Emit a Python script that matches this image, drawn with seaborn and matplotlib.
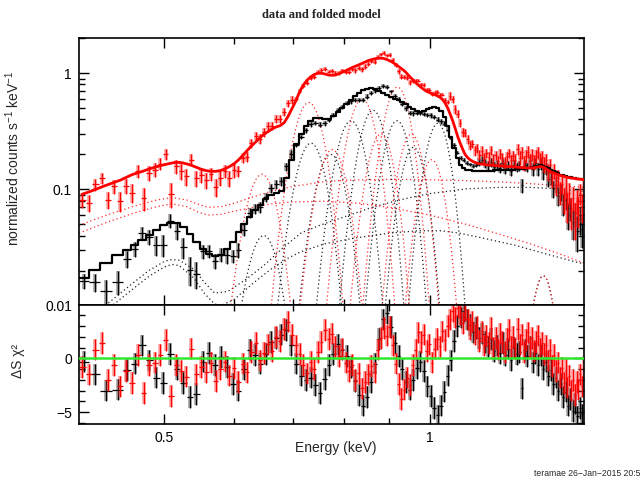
import numpy as np
import matplotlib
matplotlib.use("Agg")
import matplotlib.pyplot as plt
import seaborn as sns
from matplotlib.ticker import FixedLocator, FixedFormatter, NullFormatter, LogLocator, MultipleLocator

# ---------------------------------------------------------------- data
# Dataset 1 (black): channel bin edges [keV], folded model, residuals
black_edges = [
    0.400, 0.411, 0.423, 0.436, 0.449, 0.458, 0.467, 0.476, 0.485, 0.494,
    0.503, 0.512, 0.521, 0.530, 0.539, 0.548, 0.557, 0.566, 0.575, 0.584,
    0.593, 0.602, 0.611, 0.620, 0.629, 0.638, 0.647, 0.656, 0.665, 0.674,
    0.683, 0.692, 0.701, 0.710, 0.719, 0.728, 0.737, 0.746, 0.755, 0.764,
    0.773, 0.782, 0.791, 0.800, 0.809, 0.818, 0.827, 0.836, 0.845, 0.854,
    0.863, 0.872, 0.881, 0.890, 0.899, 0.908, 0.917, 0.926, 0.935, 0.944,
    0.953, 0.962, 0.971, 0.980, 0.989, 0.998, 1.007, 1.016, 1.025, 1.034,
    1.043, 1.052, 1.061, 1.070, 1.079, 1.088, 1.097, 1.106, 1.115, 1.124,
    1.133, 1.142, 1.151, 1.160, 1.169, 1.178, 1.187, 1.196, 1.205, 1.214,
    1.223, 1.232, 1.241, 1.250, 1.259, 1.268, 1.277, 1.286, 1.295, 1.304,
    1.313, 1.322, 1.331, 1.340, 1.349, 1.358, 1.367, 1.376, 1.385, 1.394,
    1.403, 1.412, 1.421, 1.430, 1.439, 1.448, 1.457, 1.466, 1.475, 1.484,
    1.493]
black_model = [
    0.0171, 0.0201, 0.0231, 0.0270, 0.0298, 0.0329, 0.0364, 0.0401, 0.0443, 0.0490,
    0.0510, 0.0510, 0.0470, 0.0410, 0.0350, 0.0305, 0.0275, 0.0265, 0.0270, 0.0305,
    0.0350, 0.0430, 0.0500, 0.0580, 0.0660, 0.0740, 0.0820, 0.0890, 0.0930, 0.0960,
    0.125, 0.180, 0.245, 0.300, 0.350, 0.390, 0.415, 0.415, 0.400, 0.405,
    0.430, 0.460, 0.500, 0.545, 0.590, 0.640, 0.680, 0.715, 0.735, 0.740,
    0.725, 0.700, 0.680, 0.650, 0.625, 0.605, 0.590, 0.570, 0.545, 0.515,
    0.490, 0.470, 0.460, 0.470, 0.490, 0.505, 0.515, 0.505, 0.470, 0.420,
    0.350, 0.280, 0.225, 0.185, 0.162, 0.152, 0.148, 0.146, 0.145, 0.145,
    0.145, 0.145, 0.145, 0.145, 0.145, 0.146, 0.146, 0.146, 0.147, 0.147,
    0.147, 0.148, 0.148, 0.149, 0.150, 0.150, 0.151, 0.152, 0.154, 0.156,
    0.158, 0.160, 0.161, 0.160, 0.157, 0.152, 0.147, 0.143, 0.140, 0.137,
    0.134, 0.132, 0.130, 0.128, 0.127, 0.126, 0.125, 0.124, 0.123, 0.122]
black_resid = [
    -0.3, -1.5, -3.0, -2.9, -1.1, -0.5, 1.2, -0.2, -1.8, -2.3,
    0.4, -1.0, -2.3, -3.6, -3.3, -0.3, 0.5, -0.6, 0.1, -0.8,
    -2.4, -3.0, -1.0, 0.8, 0.3, -0.5, 0.4, 1.5, 1.9, 2.2,
    2.6, 1.2, -0.5, -1.6, -2.0, -1.8, -2.5, -3.2, -1.9, -0.6,
    0.4, 1.3, 0.8, 0.2, -0.8, -2.1, -3.4, -4.4, -3.6, -2.2,
    -0.5, 1.8, 3.6, 4.2, 2.9, 1.4, 0.2, -1.0, -2.2, -2.9,
    -2.0, -0.9, -0.3, -1.2, -2.6, -3.5, -4.6, -5.3, -4.4, -3.1,
    -1.6, -0.2, 1.6, 3.0, 3.8, 4.4, 3.6, 3.1, 2.4, 2.8,
    1.9, 2.3, 1.5, 1.1, 1.8, 0.7, 1.2, 0.5, 1.4, 0.3,
    0.9, -0.2, 1.0, 0.4, 0.6, -2.8, 0.8, 0.2, 1.1, -0.4,
    0.5, -0.6, 0.3, -1.0, -0.3, -1.6, -1.1, -2.4, -1.8, -3.0,
    -2.4, -3.6, -3.1, -4.4, -3.8, -4.9, -4.2, -5.4, -4.6, -5.2]
black_relerr = [0.14] * 20 + [0.10] * 12 + [0.04] * 48 + [0.10] * 18 + [0.12] * 22

# Dataset 2 (red)
red_edges = [
    0.400, 0.407, 0.414, 0.421, 0.428, 0.435, 0.442, 0.449, 0.456, 0.463,
    0.470, 0.477, 0.484, 0.491, 0.498, 0.505, 0.512, 0.519, 0.526, 0.533,
    0.540, 0.547, 0.554, 0.561, 0.568, 0.575, 0.582, 0.589, 0.596, 0.603,
    0.610, 0.617, 0.624, 0.631, 0.638, 0.645, 0.652, 0.659, 0.666, 0.673,
    0.680, 0.687, 0.694, 0.701, 0.708, 0.715, 0.722, 0.729, 0.736, 0.743,
    0.750, 0.757, 0.764, 0.771, 0.778, 0.785, 0.792, 0.799, 0.806, 0.813,
    0.820, 0.827, 0.834, 0.841, 0.848, 0.855, 0.862, 0.869, 0.876, 0.883,
    0.890, 0.897, 0.904, 0.911, 0.918, 0.925, 0.932, 0.939, 0.946, 0.953,
    0.960, 0.967, 0.974, 0.981, 0.988, 0.995, 1.002, 1.009, 1.016, 1.023,
    1.030, 1.037, 1.044, 1.051, 1.058, 1.065, 1.072, 1.079, 1.086, 1.093,
    1.100, 1.107, 1.114, 1.121, 1.128, 1.135, 1.142, 1.149, 1.156, 1.163,
    1.170, 1.177, 1.184, 1.191, 1.198, 1.205, 1.212, 1.219, 1.226, 1.233,
    1.240, 1.247, 1.254, 1.261, 1.268, 1.275, 1.282, 1.289, 1.296, 1.303,
    1.310, 1.317, 1.324, 1.331, 1.338, 1.345, 1.352, 1.359, 1.366, 1.373,
    1.380, 1.387, 1.394, 1.401, 1.408, 1.415, 1.422, 1.429, 1.436, 1.443,
    1.450, 1.457, 1.464, 1.471, 1.478, 1.485, 1.492, 1.499]
red_model = [
    0.091, 0.095, 0.100, 0.105, 0.110, 0.115, 0.120, 0.127, 0.134, 0.139,
    0.144, 0.150, 0.155, 0.160, 0.164, 0.168, 0.171, 0.170, 0.166, 0.161,
    0.155, 0.149, 0.145, 0.143, 0.143, 0.145, 0.150, 0.157, 0.166, 0.179,
    0.196, 0.216, 0.236, 0.256, 0.278, 0.298, 0.315, 0.332, 0.345, 0.354,
    0.375, 0.425, 0.495, 0.575, 0.690, 0.790, 0.870, 0.930, 0.975, 1.000,
    1.000, 0.985, 0.965, 0.960, 0.965, 0.990, 1.020, 1.050, 1.085, 1.120,
    1.150, 1.180, 1.215, 1.250, 1.285, 1.310, 1.330, 1.345, 1.350, 1.340,
    1.315, 1.280, 1.240, 1.195, 1.145, 1.100, 1.050, 0.990, 0.930, 0.880,
    0.830, 0.790, 0.755, 0.725, 0.700, 0.682, 0.668, 0.655, 0.640, 0.622,
    0.595, 0.555, 0.505, 0.445, 0.390, 0.335, 0.285, 0.250, 0.222, 0.200,
    0.188, 0.180, 0.175, 0.171, 0.168, 0.166, 0.165, 0.164, 0.163, 0.162,
    0.162, 0.161, 0.160, 0.160, 0.159, 0.159, 0.158, 0.158, 0.157, 0.157,
    0.156, 0.156, 0.155, 0.155, 0.154, 0.154, 0.153, 0.153, 0.153, 0.153,
    0.154, 0.155, 0.156, 0.157, 0.156, 0.154, 0.150, 0.146, 0.143, 0.140,
    0.138, 0.136, 0.134, 0.132, 0.131, 0.130, 0.128, 0.127, 0.126, 0.125,
    0.125, 0.124, 0.123, 0.123, 0.122, 0.122, 0.121]
red_resid = [
    -0.8, -1.5, 0.8, 1.4, -2.0, -0.6, -2.6, -1.2, -2.3, 0.3,
    -3.2, -0.6, -0.4, 0.3, 1.7, -3.5, -0.6, -1.2, -1.7, 0.9,
    -1.5, -0.8, -1.3, -0.4, -2.1, -1.0, -0.3, -1.6, -0.9, -2.2,
    -0.5, -1.3, 0.6, 1.4, -0.2, 0.5, 1.3, 0.7, 2.0, 1.6,
    2.7, 3.4, 2.2, 1.2, 0.4, -0.6, -1.4, -0.3, -1.0, 0.6,
    1.5, 2.6, 1.8, 2.3, 1.1, 0.2, 0.9, -0.4, -1.2, -0.6,
    -2.0, -1.4, -2.8, -2.2, -1.5, -0.7, -1.3, 0.8, 1.9, 2.8,
    2.1, 2.9, 1.2, -0.5, -2.4, -3.8, -2.9, -1.8, -2.5, -0.6,
    0.8, 2.4, 1.5, 2.2, 0.7, 1.3, -0.4, 0.9, 1.8, 1.1,
    2.5, 1.7, 3.0, 3.6, 4.4, 3.8, 4.7, 4.1, 3.3, 4.5,
    3.6, 2.7, 3.4, 2.2, 2.9, 1.6, 2.5, 1.2, 2.1, 1.4,
    2.8, 1.0, 1.9, 0.8, 2.3, 1.5, 0.6, 1.8, 2.6, 1.1,
    2.0, 0.9, 2.7, 1.3, 2.2, 0.6, 1.7, 2.4, 1.0, 1.9,
    0.7, 1.5, 2.1, 0.9, 1.4, 0.4, 1.2, -0.2, 0.8, -0.7,
    0.3, -1.2, -0.4, -1.8, -0.9, -2.3, -1.1, -2.7, -1.6, -3.0,
    -2.0, -3.4, -2.2, -2.9, -1.5, -2.6, -0.8]
red_relerr = [0.13] * 29 + [0.09] * 14 + [0.04] * 50 + [0.12] * 28 + [0.16] * 36

# Model components: emission lines (centre keV, peak, sigma keV)
red_line_e = [0.645, 0.729, 0.775, 0.838, 0.880, 0.919, 0.953, 1.005, 1.345]
red_line_peak = [0.135, 0.56, 0.22, 0.60, 0.30, 0.76, 0.30, 0.18, 0.018]
red_line_sigma = [0.022, 0.024, 0.025, 0.026, 0.026, 0.027, 0.027, 0.028, 0.032]
black_line_e = [0.648, 0.733, 0.772, 0.814, 0.862, 0.918, 0.958, 1.021, 1.345]
black_line_peak = [0.040, 0.25, 0.20, 0.39, 0.48, 0.39, 0.23, 0.37, 0.018]
black_line_sigma = [0.022, 0.024, 0.025, 0.026, 0.026, 0.027, 0.027, 0.028, 0.032]

# Continuum components
red_c1_e = [0.40, 0.43, 0.46, 0.49, 0.51, 0.53, 0.545, 0.56, 0.58, 0.60, 0.63, 0.66,
            0.70, 0.75, 0.80, 0.90, 1.0, 1.1, 1.2, 1.3, 1.4, 1.5]
red_c1_v = [0.049, 0.060, 0.071, 0.081, 0.085, 0.081, 0.075, 0.070, 0.071, 0.076, 0.086, 0.096,
            0.106, 0.115, 0.120, 0.122, 0.121, 0.119, 0.116, 0.112, 0.108, 0.104]
red_c2_e = [0.40, 0.43, 0.46, 0.49, 0.51, 0.53, 0.545, 0.56, 0.58, 0.60, 0.63, 0.66,
            0.70, 0.76, 0.83, 0.90, 1.0, 1.1, 1.2, 1.3, 1.4, 1.5]
red_c2_v = [0.042, 0.052, 0.062, 0.071, 0.075, 0.071, 0.064, 0.060, 0.061, 0.065, 0.070, 0.075,
            0.078, 0.079, 0.076, 0.070, 0.060, 0.050, 0.041, 0.034, 0.028, 0.023]
black_c1_e = [0.425, 0.44, 0.46, 0.48, 0.50, 0.51, 0.52, 0.54, 0.555, 0.57, 0.59, 0.62, 0.65,
              0.68, 0.714, 0.75, 0.80, 0.85, 0.90, 0.95, 1.0, 1.1, 1.2, 1.3, 1.4, 1.5]
black_c1_v = [0.0095, 0.0118, 0.0155, 0.0200, 0.0240, 0.0249, 0.0245, 0.0205, 0.0158, 0.0128,
              0.0132, 0.0170, 0.0225, 0.031, 0.042, 0.049, 0.058, 0.068, 0.077, 0.085, 0.092,
              0.101, 0.104, 0.104, 0.101, 0.096]
black_c2_e = [0.43, 0.44, 0.46, 0.48, 0.50, 0.51, 0.52, 0.54, 0.555, 0.57, 0.58, 0.60, 0.63,
              0.66, 0.69, 0.714, 0.76, 0.82, 0.90, 0.97, 1.03, 1.08, 1.15, 1.25, 1.35, 1.47, 1.5]
black_c2_v = [0.0093, 0.0105, 0.0138, 0.0178, 0.0215, 0.0226, 0.0220, 0.0172, 0.0127, 0.0103,
              0.0100, 0.0113, 0.0155, 0.0205, 0.0255, 0.029, 0.034, 0.038, 0.042, 0.044, 0.044,
              0.042, 0.038, 0.033, 0.028, 0.0235, 0.0228]

x_ticks = [0.5, 1.0]
x_ticklabels = ["0.5", "1"]

# ---------------------------------------------------------------- style
sns.set_style("ticks")
plt.rcParams["font.family"] = ["Liberation Sans", "DejaVu Sans"]
plt.rcParams["mathtext.fontset"] = "custom"
plt.rcParams["mathtext.rm"] = "Liberation Sans"
plt.rcParams["mathtext.it"] = "Liberation Sans:italic"
plt.rcParams["axes.linewidth"] = 1.2

fig = plt.figure(figsize=(6.43, 4.87), dpi=100)
ax1 = fig.add_axes([0.1229, 0.3727, 0.7858, 0.5487])
ax2 = fig.add_axes([0.1229, 0.1294, 0.7858, 0.2433], sharex=ax1)

DOT = (0, (1, 2.2))


def prepare(edges, model, resid, relerr):
    edges = np.asarray(edges)
    model = np.asarray(model)
    resid = np.asarray(resid)
    relerr = np.asarray(relerr)
    centers = 0.5 * (edges[:-1] + edges[1:])
    halfw = 0.5 * np.diff(edges)
    err = model * relerr
    data = model + resid * err
    return edges, centers, halfw, model, resid, data, err


datasets = [
    ("black", prepare(black_edges, black_model, black_resid, black_relerr),
     (black_line_e, black_line_peak, black_line_sigma),
     [(black_c1_e, black_c1_v), (black_c2_e, black_c2_v)],
     "#000000", (0.2, 0.2, 0.2, 0.45), "#222222"),
    ("red", prepare(red_edges, red_model, red_resid, red_relerr),
     (red_line_e, red_line_peak, red_line_sigma),
     [(red_c1_e, red_c1_v), (red_c2_e, red_c2_v)],
     "#ff0000", (1.0, 0.2, 0.2, 0.45), "#ff2a2a"),
]

for name, (edges, centers, halfw, model, resid, data, err), lines, conts, col, halo, dotcol in datasets:
    # dotted model components
    for c, p, s in zip(*lines):
        e = np.linspace(c - 5 * s, c + 5 * s, 200)
        sns.lineplot(x=e, y=p * np.exp(-0.5 * ((e - c) / s) ** 2), ax=ax1, color=dotcol,
                     lw=0.9, linestyle=DOT, estimator=None, sort=False, legend=False, zorder=1)
    for ce, cv in conts:
        sns.lineplot(x=ce, y=cv, ax=ax1, color=dotcol, lw=0.9, linestyle=DOT,
                     estimator=None, sort=False, legend=False, zorder=1)

    # data with error bars
    ax1.errorbar(centers, data, yerr=err, fmt="none", ecolor=halo, elinewidth=2.6, capsize=0, zorder=2)
    ax1.errorbar(centers, data, yerr=err, xerr=halfw, fmt="none", ecolor=col, elinewidth=0.9,
                 capsize=0, zorder=2)

    # residuals
    ones = np.ones_like(resid)
    ax2.errorbar(centers, resid, yerr=ones, fmt="none", ecolor=halo, elinewidth=2.6, capsize=0, zorder=2)
    ax2.errorbar(centers, resid, yerr=ones, xerr=halfw, fmt="none", ecolor=col, elinewidth=0.9,
                 capsize=0, zorder=2)

# folded models
be, bc, bh, bm, *_ = datasets[0][1]
sns.lineplot(x=be, y=np.append(bm, bm[-1]), ax=ax1, color="black", lw=1.6, drawstyle="steps-post",
             estimator=None, sort=False, legend=False, zorder=3)
re_, rc, rh, rm, *_ = datasets[1][1]
sns.lineplot(x=rc, y=rm, ax=ax1, color="#ff0000", lw=2.0, estimator=None, sort=False,
             legend=False, zorder=3)

ax2.axhline(0.0, color="#2ee82e", lw=1.8, zorder=4)

# ---------------------------------------------------------------- axes
for ax in (ax1, ax2):
    ax.set_xscale("log")
    ax.set_xlim(0.4, 1.497)
    ax.xaxis.set_major_locator(FixedLocator(x_ticks))
    ax.xaxis.set_minor_locator(FixedLocator([0.6, 0.7, 0.8, 0.9]))
    ax.xaxis.set_minor_formatter(NullFormatter())
    ax.tick_params(which="both", direction="in", top=True, right=True, colors="black",
                   labelsize=10, width=1.0)
    ax.tick_params(which="major", length=7)
    ax.tick_params(which="minor", length=4)
    for sp in ax.spines.values():
        sp.set_linewidth(1.2)
        sp.set_color("black")

ax1.set_yscale("log")
ax1.set_ylim(0.01, 2.0)
ax1.yaxis.set_major_locator(FixedLocator([0.01, 0.1, 1.0]))
ax1.yaxis.set_major_formatter(FixedFormatter(["0.01", "0.1", "1"]))
ax1.yaxis.set_minor_locator(LogLocator(base=10, subs=np.arange(2, 10)))
ax1.yaxis.set_minor_formatter(NullFormatter())
ax1.tick_params(axis="x", labelbottom=False)
ax1.tick_params(axis="y", pad=5)
ax1.set_xlabel("")
ax1.set_ylabel("normalized counts s$^{-1}$ keV$^{-1}$", fontsize=10)
ax1.yaxis.set_label_coords(-0.113, 0.55)

ax2.set_ylim(-6.1, 4.9)
ax2.yaxis.set_major_locator(FixedLocator([-5, 0]))
ax2.yaxis.set_major_formatter(FixedFormatter(["\u22125", "0"]))
ax2.yaxis.set_minor_locator(MultipleLocator(1))
ax2.xaxis.set_major_formatter(FixedFormatter(x_ticklabels))
ax2.tick_params(axis="x", pad=5)
ax2.tick_params(axis="y", pad=5)
ax2.set_xlabel("Energy (keV)", fontsize=10)
ax2.xaxis.set_label_coords(0.509, -0.145)
ax2.set_ylabel("\u0394S \u03c7\u00b2", fontsize=10)
ax2.yaxis.set_label_coords(-0.107, 0.53)

fig.text(0.5, 1 - 15 / 487, "data and folded model", ha="center", va="center",
         family=["Liberation Serif", "DejaVu Serif"], weight="bold", fontsize=9)
fig.text(640 / 643, 1 - 473 / 487, "teramae 26\u2212Jan\u22122015 20:5", ha="right", va="center",
         fontsize=6.2)

fig.savefig("out.png", dpi=100)
